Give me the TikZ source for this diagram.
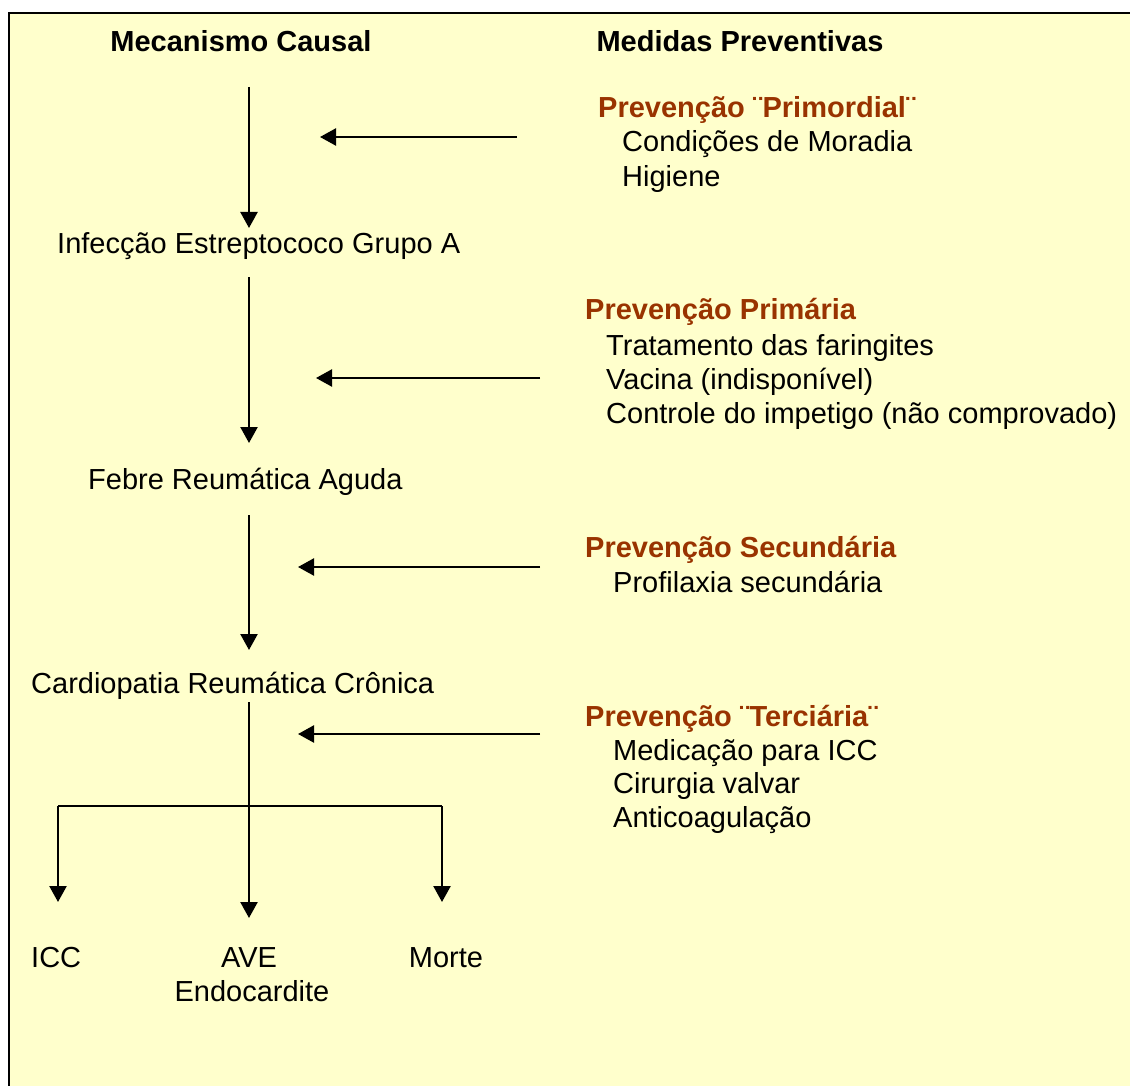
\documentclass[tikz,border=0pt]{standalone}
\usepackage{fontspec}
\setmainfont{Liberation Sans}
\usetikzlibrary{arrows.meta}
\definecolor{fundo}{HTML}{FFFFCC}
\definecolor{prevcor}{HTML}{993300}

\begin{document}
\begin{tikzpicture}[x=1pt,y=-1pt,
  txt/.style={inner sep=0pt,anchor=base west,font=\fontsize{29}{34}\selectfont},
  titulo/.style={inner sep=0pt,anchor=base,font=\fontsize{29}{34}\selectfont\bfseries},
  prev/.style={txt,font=\fontsize{29}{34}\selectfont\bfseries,text=prevcor},
  seta/.style={line width=2.4pt,-{Triangle[length=16pt,width=17pt]}},
  linha/.style={line width=2.4pt}]
\useasboundingbox (0,0) rectangle (1130,1086);
\clip (0,0) rectangle (1130,1086);
\draw[line width=2.5pt,fill=fundo] (9,13) rectangle (1145,1100);

% titulos
\node[titulo] (mecanismo) at (241,52) {Mecanismo Causal};
\node[titulo] (medidas) at (740,52) {Medidas Preventivas};

% mecanismo causal
\node[txt] (infeccao) at (57,254) {Infecção Estreptococo Grupo A};
\node[txt] (febre) at (88,489) {Febre Reumática Aguda};
\node[txt] (cardiopatia) at (31,693) {Cardiopatia Reumática Crônica};
\node[txt] (icc) at (31,967) {ICC};
\node[txt,anchor=base] (ave) at (249,967) {AVE};
\node[txt,anchor=base] (endocardite) at (252,1001) {Endocardite};
\node[txt,anchor=base] (morte) at (446,967) {Morte};

% medidas preventivas
\node[prev] (primordial) at (598,118) {Prevenção ¨Primordial¨};
\node[txt] (moradia) at (622,152) {Condições de Moradia};
\node[txt] (higiene) at (622,187) {Higiene};

\node[prev] (primaria) at (585,319) {Prevenção Primária};
\node[txt] (faringites) at (606,355) {Tratamento das faringites};
\node[txt] (vacina) at (606,389) {Vacina (indisponível)};
\node[txt] (impetigo) at (606,423) {Controle do impetigo (não comprovado)};

\node[prev] (secundaria) at (585,557) {Prevenção Secundária};
\node[txt] (profilaxia) at (613,592) {Profilaxia secundária};

\node[prev] (terciaria) at (585,726) {Prevenção ¨Terciária¨};
\node[txt] (medicacao) at (613,760) {Medicação para ICC};
\node[txt] (cirurgia) at (613,793) {Cirurgia valvar};
\node[txt] (anticoag) at (613,827) {Anticoagulação};

% pontos das setas
\coordinate (v1a) at (249,87);   \coordinate (v1b) at (249,228);
\coordinate (v2a) at (249,277);  \coordinate (v2b) at (249,443);
\coordinate (v3a) at (249,515);  \coordinate (v3b) at (249,650);
\coordinate (v4a) at (249,702);  \coordinate (v4b) at (249,918);
\coordinate (h1a) at (517,137);  \coordinate (h1b) at (320,137);
\coordinate (h2a) at (540,378);  \coordinate (h2b) at (316,378);
\coordinate (h3a) at (540,567);  \coordinate (h3b) at (298,567);
\coordinate (h4a) at (540,734);  \coordinate (h4b) at (298,734);
\coordinate (ramoe) at (58,806); \coordinate (ramod) at (442,806);
\coordinate (fime) at (58,902);  \coordinate (fimd) at (442,902);

\draw[seta] (v1a) -- (v1b);
\draw[seta] (v2a) -- (v2b);
\draw[seta] (v3a) -- (v3b);
\draw[seta] (v4a) -- (v4b);
\draw[seta] (h1a) -- (h1b);
\draw[seta] (h2a) -- (h2b);
\draw[seta] (h3a) -- (h3b);
\draw[seta] (h4a) -- (h4b);
\draw[linha] (ramoe) -- (ramod);
\draw[seta] (ramoe) -- (fime);
\draw[seta] (ramod) -- (fimd);

\end{tikzpicture}
\end{document}
